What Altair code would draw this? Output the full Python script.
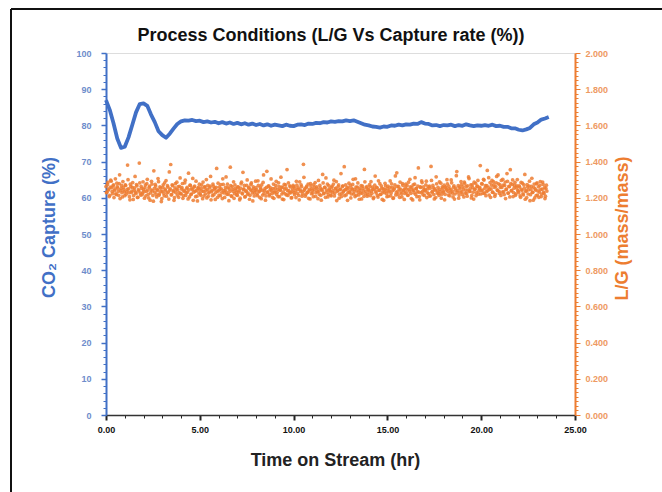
import altair as alt
import numpy as np
import pandas as pd

# CO2 capture (%) sampled every 0.2 hr
capture_pct = [
    87.0, 84.3, 80.6, 76.4, 73.8, 74.1, 76.7, 80.1, 83.6, 85.9,
    86.1, 85.4, 83.0, 80.9, 78.4, 77.3, 76.6, 77.7, 79.1, 80.4,
    81.1, 81.4, 81.3, 81.5, 81.2, 81.3, 80.9, 81.1, 80.8, 81.0,
    80.6, 80.9, 80.5, 80.8, 80.4, 80.7, 80.3, 80.6, 80.2, 80.5,
    80.1, 80.4, 80.0, 80.3, 79.9, 80.2, 80.0, 79.8, 80.2, 79.9,
    79.8, 80.2, 80.3, 80.1, 80.5, 80.4, 80.7, 80.6, 80.9, 80.8,
    81.1, 81.0, 81.2, 81.1, 81.4, 81.2, 81.4, 81.0, 80.6, 80.2,
    80.0, 79.7, 79.6, 79.4, 79.7, 79.6, 80.0, 79.9, 80.2, 80.0,
    80.3, 80.2, 80.5, 80.4, 80.9, 80.5, 80.4, 80.0, 80.1, 79.8,
    80.1, 80.0, 80.2, 79.8, 80.1, 79.9, 80.3, 80.0, 79.8, 80.0,
    79.9, 80.1, 79.9, 80.2, 79.8, 79.9, 79.6, 79.6, 79.2, 79.2,
    78.8, 78.6, 78.9, 79.3, 80.3, 80.8, 81.6, 81.9, 82.3,
]

# L/G ratio (mass/mass), first sample set: every 0.05 hr from 0.000 hr
lg_ratio_a = [
    1.262, 1.231, 1.285, 1.248, 1.214, 1.297, 1.256, 1.223, 1.271, 1.240, 1.305, 1.218, 1.262, 1.235, 1.279, 1.196, 1.251, 1.228, 1.290, 1.244,
    1.212, 1.268, 1.233, 1.381, 1.249, 1.206, 1.275, 1.229, 1.257, 1.191, 1.242, 1.318, 1.224, 1.266, 1.203, 1.238, 1.283, 1.215, 1.252, 1.227,
    1.246, 1.198, 1.271, 1.236, 1.302, 1.219, 1.258, 1.187, 1.244, 1.276, 1.213, 1.349, 1.232, 1.265, 1.205, 1.241, 1.289, 1.222, 1.254, 1.179,
    1.237, 1.272, 1.211, 1.248, 1.295, 1.226, 1.259, 1.193, 1.243, 1.384, 1.218, 1.267, 1.234, 1.201, 1.278, 1.247, 1.215, 1.262, 1.229, 1.310,
    1.224, 1.256, 1.197, 1.241, 1.283, 1.213, 1.250, 1.232, 1.336, 1.205, 1.268, 1.221, 1.245, 1.186, 1.259, 1.237, 1.292, 1.209, 1.252, 1.226,
    1.243, 1.214, 1.271, 1.195, 1.236, 1.258, 1.222, 1.301, 1.247, 1.208, 1.233, 1.265, 1.189, 1.241, 1.276, 1.217, 1.254, 1.229, 1.362, 1.203,
    1.238, 1.261, 1.212, 1.249, 1.196, 1.274, 1.227, 1.243, 1.315, 1.219, 1.256, 1.184, 1.235, 1.267, 1.208, 1.246, 1.288, 1.223, 1.252, 1.231,
    1.214, 1.259, 1.241, 1.198, 1.277, 1.226, 1.341, 1.249, 1.205, 1.236, 1.268, 1.219, 1.254, 1.192, 1.244, 1.282, 1.227, 1.261, 1.210, 1.239,
    1.256, 1.221, 1.294, 1.233, 1.202, 1.248, 1.271, 1.215, 1.326, 1.240, 1.187, 1.257, 1.229, 1.263, 1.211, 1.245, 1.304, 1.224, 1.251, 1.197,
    1.236, 1.269, 1.218, 1.247, 1.283, 1.206, 1.242, 1.259, 1.193, 1.231, 1.274, 1.222, 1.253, 1.356, 1.213, 1.240, 1.266, 1.228, 1.201, 1.249,
    1.262, 1.217, 1.238, 1.291, 1.225, 1.255, 1.189, 1.244, 1.272, 1.209, 1.236, 1.313, 1.251, 1.219, 1.264, 1.232, 1.197, 1.247, 1.278, 1.223,
    1.241, 1.206, 1.259, 1.284, 1.228, 1.252, 1.195, 1.237, 1.268, 1.214, 1.246, 1.329, 1.223, 1.257, 1.203, 1.243, 1.276, 1.218, 1.250, 1.235,
    1.211, 1.264, 1.239, 1.297, 1.226, 1.254, 1.185, 1.242, 1.271, 1.220, 1.248, 1.207, 1.262, 1.233, 1.372, 1.245, 1.216, 1.258, 1.229, 1.281,
    1.237, 1.199, 1.253, 1.274, 1.221, 1.246, 1.305, 1.214, 1.259, 1.231, 1.192, 1.243, 1.267, 1.225, 1.251, 1.208, 1.288, 1.236, 1.262, 1.218,
    1.244, 1.273, 1.212, 1.238, 1.259, 1.196, 1.249, 1.320, 1.227, 1.255, 1.204, 1.241, 1.278, 1.219, 1.253, 1.233, 1.186, 1.247, 1.266, 1.224,
    1.252, 1.209, 1.240, 1.293, 1.226, 1.258, 1.197, 1.245, 1.271, 1.216, 1.338, 1.236, 1.263, 1.203, 1.248, 1.222, 1.279, 1.239, 1.191, 1.256,
    1.230, 1.268, 1.214, 1.247, 1.302, 1.225, 1.257, 1.188, 1.243, 1.275, 1.219, 1.251, 1.234, 1.365, 1.207, 1.261, 1.229, 1.284, 1.217, 1.245,
    1.238, 1.272, 1.201, 1.249, 1.223, 1.264, 1.211, 1.296, 1.235, 1.255, 1.194, 1.242, 1.316, 1.226, 1.258, 1.213, 1.247, 1.281, 1.220, 1.253,
    1.232, 1.189, 1.261, 1.244, 1.277, 1.215, 1.250, 1.228, 1.299, 1.237, 1.205, 1.266, 1.221, 1.254, 1.345, 1.240, 1.198, 1.259, 1.231, 1.273,
    1.218, 1.248, 1.287, 1.226, 1.262, 1.209, 1.243, 1.306, 1.235, 1.271, 1.214, 1.256, 1.193, 1.247, 1.280, 1.229, 1.264, 1.220, 1.252, 1.378,
    1.241, 1.276, 1.225, 1.298, 1.253, 1.212, 1.267, 1.239, 1.311, 1.246, 1.203, 1.270, 1.231, 1.289, 1.258, 1.219, 1.283, 1.244, 1.326, 1.236,
    1.272, 1.213, 1.257, 1.302, 1.234, 1.268, 1.196, 1.248, 1.291, 1.226, 1.262, 1.355, 1.238, 1.274, 1.207, 1.253, 1.285, 1.222, 1.266, 1.241,
    1.228, 1.259, 1.203, 1.247, 1.281, 1.216, 1.254, 1.192, 1.239, 1.273, 1.221, 1.265, 1.184, 1.246, 1.308, 1.230, 1.258, 1.199, 1.243, 1.277,
    1.215, 1.261, 1.232, 1.289, 1.207, 1.248, 1.274, 1.224, 1.196, 1.252, 1.237,
]

# L/G ratio (mass/mass), second sample set: every 0.05 hr from 0.025 hr
lg_ratio_b = [
    1.228, 1.274, 1.243, 1.207, 1.259, 1.292, 1.235, 1.266, 1.201, 1.249, 1.222, 1.281, 1.253, 1.214, 1.327, 1.240, 1.268, 1.205, 1.257, 1.233,
    1.271, 1.219, 1.246, 1.300, 1.228, 1.189, 1.262, 1.237, 1.284, 1.213, 1.255, 1.231, 1.273, 1.202, 1.245, 1.392, 1.226, 1.263, 1.217, 1.288,
    1.234, 1.256, 1.210, 1.278, 1.243, 1.199, 1.265, 1.227, 1.291, 1.238, 1.181, 1.252, 1.274, 1.220, 1.247, 1.306, 1.214, 1.261, 1.236, 1.195,
    1.258, 1.225, 1.283, 1.241, 1.209, 1.267, 1.232, 1.343, 1.250, 1.216, 1.272, 1.239, 1.186, 1.255, 1.229, 1.286, 1.244, 1.203, 1.263, 1.221,
    1.248, 1.279, 1.212, 1.236, 1.297, 1.227, 1.258, 1.194, 1.244, 1.270, 1.218, 1.253, 1.307, 1.231, 1.265, 1.206, 1.240, 1.183, 1.257, 1.275,
    1.222, 1.253, 1.237, 1.287, 1.210, 1.262, 1.241, 1.199, 1.269, 1.226, 1.255, 1.318, 1.233, 1.212, 1.264, 1.247, 1.191, 1.258, 1.237, 1.281,
    1.215, 1.247, 1.273, 1.229, 1.305, 1.240, 1.202, 1.258, 1.232, 1.275, 1.219, 1.249, 1.369, 1.211, 1.262, 1.236, 1.197, 1.271, 1.243, 1.216,
    1.260, 1.232, 1.189, 1.253, 1.286, 1.222, 1.245, 1.268, 1.207, 1.238, 1.299, 1.226, 1.257, 1.214, 1.274, 1.241, 1.183, 1.250, 1.229, 1.292,
    1.244, 1.212, 1.269, 1.237, 1.258, 1.195, 1.241, 1.285, 1.224, 1.251, 1.210, 1.346, 1.233, 1.266, 1.218, 1.255, 1.239, 1.203, 1.276, 1.228,
    1.253, 1.291, 1.230, 1.207, 1.262, 1.244, 1.314, 1.221, 1.257, 1.190, 1.248, 1.272, 1.216, 1.240, 1.283, 1.227, 1.260, 1.199, 1.236, 1.268,
    1.229, 1.254, 1.201, 1.270, 1.246, 1.213, 1.288, 1.235, 1.262, 1.221, 1.385, 1.243, 1.209, 1.257, 1.229, 1.276, 1.238, 1.194, 1.265, 1.250,
    1.226, 1.273, 1.244, 1.208, 1.261, 1.234, 1.296, 1.219, 1.253, 1.187, 1.240, 1.282, 1.226, 1.258, 1.310, 1.231, 1.205, 1.267, 1.242, 1.215,
    1.257, 1.228, 1.276, 1.210, 1.249, 1.290, 1.236, 1.262, 1.198, 1.245, 1.334, 1.224, 1.266, 1.239, 1.212, 1.271, 1.247, 1.186, 1.254, 1.230,
    1.268, 1.221, 1.245, 1.302, 1.233, 1.207, 1.259, 1.240, 1.282, 1.216, 1.251, 1.227, 1.194, 1.264, 1.238, 1.357, 1.222, 1.255, 1.209, 1.246,
    1.231, 1.262, 1.289, 1.225, 1.247, 1.203, 1.270, 1.236, 1.258, 1.214, 1.294, 1.242, 1.219, 1.266, 1.191, 1.250, 1.228, 1.280, 1.238, 1.206,
    1.265, 1.233, 1.258, 1.211, 1.277, 1.240, 1.199, 1.254, 1.321, 1.228, 1.263, 1.217, 1.248, 1.287, 1.232, 1.205, 1.269, 1.244, 1.224, 1.275,
    1.248, 1.215, 1.286, 1.237, 1.261, 1.196, 1.243, 1.272, 1.228, 1.311, 1.252, 1.206, 1.265, 1.231, 1.189, 1.257, 1.294, 1.236, 1.260, 1.213,
    1.245, 1.292, 1.228, 1.262, 1.209, 1.253, 1.373, 1.231, 1.268, 1.218, 1.249, 1.201, 1.277, 1.240, 1.225, 1.288, 1.234, 1.198, 1.261, 1.237,
    1.270, 1.219, 1.253, 1.300, 1.236, 1.264, 1.211, 1.247, 1.283, 1.226, 1.258, 1.193, 1.242, 1.322, 1.229, 1.267, 1.215, 1.251, 1.289, 1.234,
    1.261, 1.205, 1.278, 1.243, 1.224, 1.266, 1.315, 1.237, 1.253, 1.199, 1.272, 1.231, 1.286, 1.248, 1.212, 1.263, 1.296, 1.238, 1.257, 1.221,
    1.279, 1.243, 1.302, 1.226, 1.267, 1.234, 1.351, 1.258, 1.215, 1.284, 1.249, 1.296, 1.230, 1.271, 1.208, 1.262, 1.318, 1.241, 1.277, 1.225,
    1.258, 1.296, 1.232, 1.270, 1.218, 1.287, 1.246, 1.334, 1.226, 1.263, 1.205, 1.279, 1.241, 1.299, 1.229, 1.268, 1.214, 1.256, 1.301, 1.237,
    1.266, 1.211, 1.285, 1.240, 1.222, 1.271, 1.329, 1.235, 1.201, 1.259, 1.244, 1.292, 1.217, 1.263, 1.230, 1.187, 1.276, 1.249, 1.212, 1.283,
    1.238, 1.203, 1.269, 1.246, 1.221, 1.287, 1.232, 1.256, 1.209, 1.270,
]

chart_title = "Process Conditions (L/G Vs Capture rate (%))"

x_tick_values = list(range(0, 26))                              # 1 hr minor, 5 hr major
left_tick_values = list(range(0, 101, 2))                       # 2 % minor, 10 % major
right_tick_values = [round(i * 0.025, 3) for i in range(81)]    # 0.025 minor, 0.2 major

capture_time = np.round(np.arange(len(capture_pct)) * 0.2, 3)
time_a = np.round(np.arange(len(lg_ratio_a)) * 0.05, 3)
time_b = np.round(0.025 + np.arange(len(lg_ratio_b)) * 0.05, 3)

cap_df = pd.DataFrame({"t": capture_time, "capture": capture_pct})
lg_df = pd.DataFrame({
    "t": np.concatenate([time_a, time_b]),
    "lg": lg_ratio_a + lg_ratio_b,
})

BLUE = "#4170C6"
ORANGE = "#ED7D31"
FONT = "Liberation Sans"
TITLE_SIZE = 18

x_enc = alt.X(
    "t:Q",
    scale=alt.Scale(domain=[0, 25], nice=False, zero=False),
    axis=alt.Axis(
        title="Time on Stream (hr)",
        titleX=229,
        values=x_tick_values,
        labelExpr="datum.value % 5 === 0 ? format(datum.value, '.2f') : ''",
        tickSize={"condition": {"test": "datum.value % 5 === 0", "value": 5}, "value": 3},
        tickWidth={"condition": {"test": "datum.value % 5 === 0", "value": 2}, "value": 1},
        tickColor="#222222",
        domainColor="#333333",
        domainWidth=1.5,
        labelColor="#111111",
        labelFontSize=9,
        labelFontWeight="bold",
        labelPadding=5,
        labelFlush=False,
        titleFontSize=TITLE_SIZE,
        titleFontWeight="bold",
        titleColor="#222222",
        titlePadding=17,
        grid=False,
    ),
)

capture_line = alt.Chart(cap_df).mark_line(
    color=BLUE, strokeWidth=3.8, strokeJoin="round"
).encode(
    x=x_enc,
    y=alt.Y(
        "capture:Q",
        scale=alt.Scale(domain=[0, 100], nice=False),
        axis=alt.Axis(
            orient="left",
            title="CO₂ Capture (%)",
            titleY=174,
            values=left_tick_values,
            labelExpr="datum.value % 10 === 0 ? format(datum.value, 'd') : ''",
            tickSize={"condition": {"test": "datum.value % 10 === 0", "value": 5}, "value": 3},
            tickWidth={"condition": {"test": "datum.value % 10 === 0", "value": 1.5}, "value": 1},
            tickColor=BLUE,
            domainColor=BLUE,
            domainWidth=2,
            labelColor="#6E8CCB",
            labelFontSize=9,
            labelFontWeight="bold",
            labelPadding=10,
            titleFontSize=TITLE_SIZE,
            titleFontWeight="bold",
            titleColor=BLUE,
            titlePadding=17,
            grid=False,
        ),
    ),
)

lg_points = alt.Chart(lg_df).mark_circle(
    color=ORANGE, size=14, opacity=0.85
).encode(
    x=x_enc,
    y=alt.Y(
        "lg:Q",
        scale=alt.Scale(domain=[0, 2], nice=False),
        axis=alt.Axis(
            orient="right",
            title="L/G (mass/mass)",
            titleAngle=270,
            titleY=175,
            values=right_tick_values,
            labelExpr="abs(datum.value * 5 - round(datum.value * 5)) < 0.000001 ? format(datum.value, '.3f') : ''",
            tickSize={"condition": {"test": "abs(datum.value * 5 - round(datum.value * 5)) < 0.000001", "value": 5}, "value": 3},
            tickWidth=1,
            tickColor=ORANGE,
            domainColor=ORANGE,
            domainWidth=2,
            labelColor="#EE9A62",
            labelFontSize=9,
            labelFontWeight="bold",
            labelPadding=5,
            titleFontSize=TITLE_SIZE,
            titleFontWeight="bold",
            titleColor=ORANGE,
            titlePadding=24,
            grid=False,
        ),
    ),
)

one_row = pd.DataFrame({"k": [0]})

# figure frame: top and left edges of the bordered figure
frame_top = alt.Chart(one_row).mark_rule(color="#111111", strokeWidth=2).encode(
    x=alt.value(-95), x2=alt.value(560), y=alt.value(-44)
)
frame_left = alt.Chart(one_row).mark_rule(color="#111111", strokeWidth=2).encode(
    x=alt.value(-95), y=alt.value(-44), y2=alt.value(445)
)

# chart heading above the plot area
heading = alt.Chart(one_row).mark_text(
    text=chart_title, font=FONT, fontSize=TITLE_SIZE, fontWeight="bold",
    color="#111111", align="center", baseline="middle",
).encode(x=alt.value(225), y=alt.value(-17))

chart = alt.layer(frame_top, frame_left, heading, capture_line, lg_points).resolve_scale(
    y="independent"
).properties(
    width=469,
    height=362,
    padding={"left": 106, "top": 53, "right": 87, "bottom": 77},
    autosize=alt.AutoSizeParams(type="none"),
    background="white",
).configure_view(
    fill="#DAE3F3", strokeWidth=0
).configure(
    font=FONT
)

chart.save("out.html", embed_options={"renderer": "svg", "actions": False})
